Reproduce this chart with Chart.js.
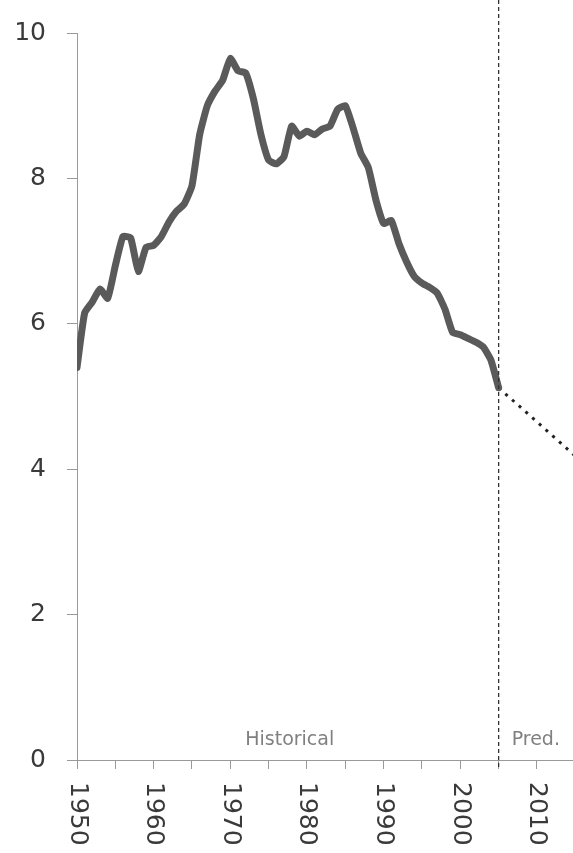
<!DOCTYPE html>
<html>
<head>
<meta charset="utf-8">
<script src="https://cdn.jsdelivr.net/npm/chart.js@4/dist/chart.umd.min.js"></script>
<style>
  html, body { margin: 0; padding: 0; background: #fff; }
  #wrap { width: 573px; height: 853px; }
</style>
</head>
<body>
<div id="wrap"><canvas id="myChart" width="573" height="853"></canvas></div>
<script>
// historical series, one value per year
const years = [1950, 1951, 1952, 1953, 1954, 1955, 1956, 1957, 1958, 1959,
               1960, 1961, 1962, 1963, 1964, 1965, 1966, 1967, 1968, 1969,
               1970, 1971, 1972, 1973, 1974, 1975, 1976, 1977, 1978, 1979,
               1980, 1981, 1982, 1983, 1984, 1985, 1986, 1987, 1988, 1989,
               1990, 1991, 1992, 1993, 1994, 1995, 1996, 1997, 1998, 1999,
               2000, 2001, 2002, 2003, 2004, 2005];
const historical = [5.40, 6.15, 6.30, 6.48, 6.35, 6.80, 7.20, 7.18, 6.72, 7.05,
                    7.08, 7.20, 7.40, 7.55, 7.65, 7.90, 8.60, 9.00, 9.20, 9.35,
                    9.65, 9.48, 9.45, 9.10, 8.60, 8.25, 8.20, 8.30, 8.72, 8.58,
                    8.65, 8.60, 8.68, 8.72, 8.95, 9.00, 8.70, 8.35, 8.15, 7.70,
                    7.38, 7.42, 7.10, 6.85, 6.65, 6.56, 6.50, 6.42, 6.20, 5.88,
                    5.85, 5.80, 5.75, 5.68, 5.50, 5.12];

// prediction
const predYears = [2005, 2015];
const predicted = [5.12, 4.18];

const splitYear = 2005;
const periodLabels = ['Historical', 'Pred.'];

const yTicks = [0, 2, 4, 6, 8, 10];

const fontFamily = '"DejaVu Sans", sans-serif';
const labelColor = '#3a3a3a';

const extrasPlugin = {
    id: 'extras',
    afterDraw(chart) {
        const ctx = chart.ctx;
        const xs = chart.scales.x;
        const area = chart.chartArea;

        // vertical split line
        const sx = xs.getPixelForValue(splitYear);
        ctx.save();
        ctx.strokeStyle = '#333';
        ctx.lineWidth = 1.3;
        ctx.setLineDash([4, 3]);
        ctx.beginPath();
        ctx.moveTo(sx, 0);
        ctx.lineTo(sx, area.bottom + 10);
        ctx.stroke();
        ctx.restore();

        // period labels
        ctx.save();
        ctx.font = '19px ' + fontFamily;
        ctx.fillStyle = '#808080';
        ctx.textBaseline = 'middle';
        ctx.textAlign = 'center';
        ctx.fillText(periodLabels[0], xs.getPixelForValue(1977.75), area.bottom - 20);
        ctx.textAlign = 'left';
        ctx.fillText(periodLabels[1], sx + 13, area.bottom - 20);
        ctx.restore();

        // x tick labels, rotated clockwise
        ctx.save();
        ctx.font = '25px ' + fontFamily;
        ctx.fillStyle = labelColor;
        ctx.textAlign = 'left';
        ctx.textBaseline = 'middle';
        xs.ticks.forEach(t => {
            if (t.value % 10 !== 0) return;
            const px = xs.getPixelForValue(t.value);
            ctx.save();
            ctx.translate(px, area.bottom + 22);
            ctx.rotate(Math.PI / 2);
            ctx.fillText(String(t.value), 0, 0);
            ctx.restore();
        });
        ctx.restore();
    }
};

const ctx = document.getElementById('myChart').getContext('2d');

const myChart = new Chart(ctx, {
    type: 'line',
    data: {
        datasets: [
            {
                label: 'Historical',
                data: years.map((y, i) => ({ x: y, y: historical[i] })),
                borderColor: '#5a5a5a',
                borderWidth: 7,
                pointRadius: 0,
                tension: 0.15,
                borderJoinStyle: 'round',
                borderCapStyle: 'round',
                fill: false
            },
            {
                label: 'Predicted',
                data: predYears.map((y, i) => ({ x: y, y: predicted[i] })),
                borderColor: '#222',
                borderWidth: 3,
                borderDash: [3, 6],
                pointRadius: 0,
                fill: false
            }
        ]
    },
    options: {
        responsive: false,
        animation: false,
        layout: { padding: { top: 33, right: 0, left: 0, bottom: 0 } },
        plugins: {
            legend: { display: false },
            tooltip: { enabled: false }
        },
        scales: {
            x: {
                type: 'linear',
                min: 1950,
                max: 2014.7,
                afterFit: s => { s.height = 93; },
                afterBuildTicks: s => {
                    const t = [];
                    for (let v = 1950; v <= 2010; v += 5) t.push({ value: v });
                    s.ticks = t;
                },
                ticks: { display: false },
                grid: {
                    drawOnChartArea: false,
                    drawTicks: true,
                    tickLength: 9,
                    color: '#9a9a9a'
                },
                border: { color: '#9a9a9a', width: 1 }
            },
            y: {
                min: 0,
                max: 10,
                afterFit: s => {
                    s.width = 77;
                    s.paddingTop = 0;
                    s.paddingBottom = 0;
                },
                afterBuildTicks: s => { s.ticks = yTicks.map(v => ({ value: v })); },
                ticks: {
                    color: labelColor,
                    font: { family: fontFamily, size: 25 },
                    padding: 21
                },
                grid: {
                    drawOnChartArea: false,
                    drawTicks: true,
                    tickLength: 10,
                    color: '#9a9a9a'
                },
                border: { color: '#9a9a9a', width: 1 }
            }
        }
    },
    plugins: [extrasPlugin]
});
</script>
</body>
</html>
